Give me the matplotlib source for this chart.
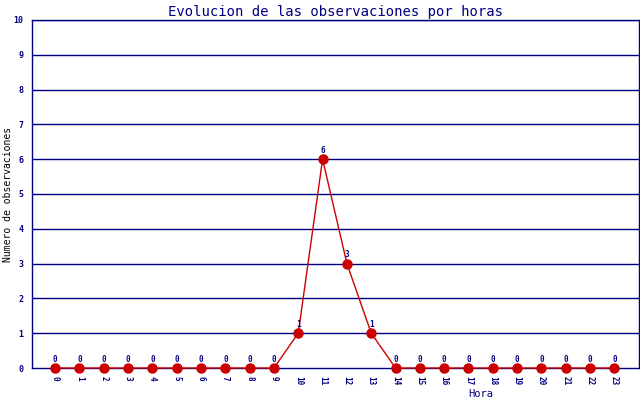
import numpy as np
import matplotlib
matplotlib.use('Agg')
import matplotlib.pyplot as plt

horas = list(range(24))
observaciones = [0, 0, 0, 0, 0, 0, 0, 0, 0, 0, 1, 6, 3, 1, 0, 0, 0, 0, 0, 0, 0, 0, 0, 0]

navy = '#000080'
red = '#cc0000'
plt.rcParams['font.family'] = 'DejaVu Sans Mono'

fig = plt.figure(figsize=(6.4, 4.0), dpi=100, facecolor='white')
ax = fig.add_axes([0.05, 0.08, 0.948, 0.87])

ax.set_xlim(-0.95, 24.0)
ax.set_ylim(0, 10)
for y in range(1, 11):
    ax.axhline(y, color=navy, lw=1.0, zorder=1)

ax.plot(horas, observaciones, color=red, lw=1.0, marker='o', markersize=6.5,
        markerfacecolor=red, markeredgecolor=red, zorder=3, clip_on=False)

for h, v in zip(horas, observaciones):
    ax.text(h, v + 0.12, str(v), color=navy, fontsize=5.5, ha='center', va='bottom',
            fontweight='bold', zorder=4)

for s in ax.spines.values():
    s.set_color(navy)
    s.set_linewidth(1.0)

ax.set_xticks(horas)
ax.set_xticklabels([str(h) for h in horas], rotation=-90, fontsize=5.5, color=navy,
                   fontweight='bold')
ax.set_yticks(range(0, 11))
ax.set_yticklabels([str(y) for y in range(0, 11)], fontsize=6, color=navy, fontweight='bold')
ax.tick_params(axis='both', length=0, pad=6)

ax.set_title('Evolucion de las observaciones por horas', color=navy, fontsize=10, pad=3)
ax.set_ylabel('Numero de observaciones', color='black', fontsize=7)
ax.yaxis.set_label_coords(-0.031, 0.5)
ax.set_xlabel('Hora', color=navy, fontsize=7.5)
ax.xaxis.set_label_coords(0.74, -0.06)

plt.savefig('out.png', dpi=100)
